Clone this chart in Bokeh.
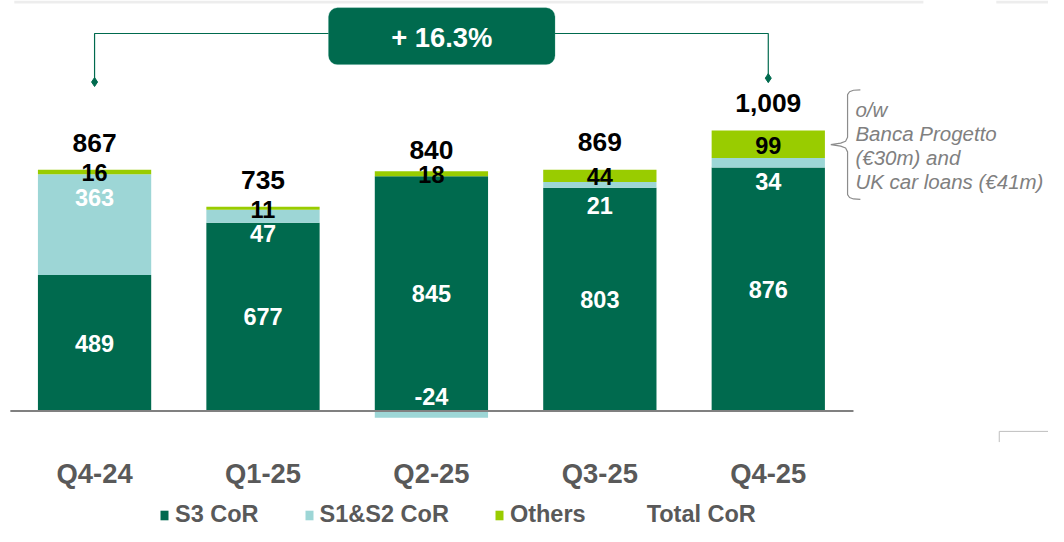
import numpy as np
from bokeh.plotting import figure
from bokeh.models import Range1d, BoxAnnotation, Legend, LegendItem, ColumnDataSource
from bokeh.core.properties import value
from bokeh.embed import file_html
from bokeh.resources import INLINE

# ---------------- data ----------------
categories = ["Q4-24", "Q1-25", "Q2-25", "Q3-25", "Q4-25"]
s3_cor = [489, 677, 845, 803, 876]
s12_cor = [363, 47, -24, 21, 34]
others = [16, 11, 18, 44, 99]
total_cor = [867, 735, 840, 869, 1009]
total_labels = ["867", "735", "840", "869", "1,009"]
growth_label = "+ 16.3%"
note_lines = ["o/w", "Banca Progetto", "(€30m) and", "UK car loans (€41m)"]
legend_labels = ["S3 CoR", "S1&S2 CoR", "Others", "Total CoR"]

# ---------------- style ----------------
C3 = "#006A4E"
C12 = "#9DD6D6"
COTH = "#99CC00"
GREY_TXT = "#595959"
FONT = "Liberation Sans"

W, H = 1048, 526
REF_W, REF_H = 1064.0, 542.0
SX, SY = W / REF_W, H / REF_H
S = (SX + SY) / 2

X0_PX, DX_PX = 95.5, 171.0   # first category centre / pitch (design px)
Y0_PX, KY = 423.0, 0.2864    # zero line (design px), design px per unit


def xd(px):
    return (np.asarray(px, dtype=float) - X0_PX) / DX_PX


def yd(py):
    return (Y0_PX - np.asarray(py, dtype=float)) / KY


def fs(v):
    return f"{v * S:.1f}px"


p = figure(width=W, height=H,
           x_range=Range1d(float(xd(0)), float(xd(REF_W))),
           y_range=Range1d(float(yd(REF_H)), float(yd(0))),
           output_backend="svg", toolbar_location=None, min_border=0,
           x_axis_type=None, y_axis_type=None)
p.outline_line_color = None
p.background_fill_color = "white"
p.border_fill_color = "white"

# faint slide bands at the top
p.quad(left=xd([14, 1011]), right=xd([937, 1064]), top=yd([0, 0]), bottom=yd([3, 3]),
       fill_color="#EDEDED", line_color=None)

x = np.arange(len(categories))
s3 = np.array(s3_cor, dtype=float)
s12 = np.array(s12_cor, dtype=float)
oth = np.array(others, dtype=float)
tot = np.array(total_cor, dtype=float)

s12_bot = np.where(s12 >= 0, s3, 0)
s12_top = np.where(s12 >= 0, s3 + s12, s12)
oth_bot = s3 + np.maximum(s12, 0)
oth_top = oth_bot + oth

bw = 115.0 / DX_PX
r3 = p.vbar(x=x, bottom=0, top=s3, width=bw, fill_color=C3, line_color=None)
r12 = p.vbar(x=x, bottom=s12_bot, top=s12_top, width=bw, fill_color=C12, line_color=None)
ro = p.vbar(x=x, bottom=oth_bot, top=oth_top, width=bw, fill_color=COTH, line_color=None)

# zero line
p.segment(x0=[float(xd(10))], x1=[float(xd(866))], y0=[0], y1=[0], line_color="#808080", line_width=2)

common = dict(text_align="center", text_baseline="middle", text_font=value(FONT), text_font_style="bold")

# S3 labels
p.text(x=x, y=s3 / 2, text=[str(v) for v in s3_cor], text_font_size=fs(24), text_color="white", **common)
# S1&S2 labels
p.text(source=ColumnDataSource(dict(x=x, y=np.where(s12 >= 0, s3 + s12, 0),
                                    yo=np.where(s12 >= 0, 24 * SY, -15 * SY),
                                    t=[str(v) for v in s12_cor])),
       x="x", y="y", y_offset="yo", text="t", text_font_size=fs(24), text_color="white", **common)
# Others labels
p.text(x=x, y=oth_bot + oth / 2, y_offset=1, text=[str(v) for v in others],
       text_font_size=fs(24), text_color="black", **common)
# Totals
p.text(x=x, y=tot, y_offset=-28 * SY, text=total_labels, text_font_size=fs(27), text_color="black", **common)
# Category labels
p.text(x=x, y=[float(yd(487))] * len(x), text=categories, text_font_size=fs(28), text_color=GREY_TXT, **common)

# growth bracket
ybr = float(yd(34))
p.line(x=[0, 0, float(xd(333))], y=[float(yd(84)), ybr, ybr], line_color=C3, line_width=1.2)
p.line(x=[float(xd(563)), 4, 4], y=[ybr, ybr, float(yd(80))], line_color=C3, line_width=1.2)
p.scatter(x=[0, 4], y=[float(yd(84)), float(yd(80))], marker="diamond", size=9, color=C3)
box = BoxAnnotation(left=float(xd(333)), right=float(xd(563)), top=float(yd(7.5)), bottom=float(yd(66)),
                    fill_color=C3, fill_alpha=1, line_color="#3C9A86", line_width=1,
                    border_radius=9, level="underlay")
p.add_layout(box)
p.text(x=[float(xd(448))], y=[float(yd(38))], text=[growth_label], text_font_size=fs(28),
       text_color="white", **common)

# brace + note
bx = [873, 866, 862, 860, 860, 858, 853, 843, 853, 858, 860, 860, 862, 866, 873]
by = [92, 92.5, 94, 97, 141, 145, 147, 148.5, 150, 152, 156, 200, 203, 204.5, 205]
p.line(x=xd(bx), y=yd(by), line_color="#8C8C8C", line_width=1.2)
p.text(x=[float(xd(868))] * 4, y=yd([112, 137, 162, 187]), text=note_lines,
       text_align="left", text_baseline="middle", text_font=value(FONT), text_font_style="italic",
       text_font_size=fs(21), text_color="#808080")

# small corner fragment at right
p.line(x=xd([1064, 1014, 1014]), y=yd([444, 444, 455]), line_color="#BFBFBF", line_width=1)

# legend
dummy = p.scatter(x=[], y=[], fill_alpha=0, line_alpha=0)
legend = Legend(items=[LegendItem(label=legend_labels[0], renderers=[r3]),
                       LegendItem(label=legend_labels[1], renderers=[r12]),
                       LegendItem(label=legend_labels[2], renderers=[ro]),
                       LegendItem(label=legend_labels[3], renderers=[dummy])],
                orientation="horizontal", location=(159, -2),
                glyph_width=10, glyph_height=12, label_standoff=6, spacing=45,
                padding=0, margin=0, border_line_alpha=0, background_fill_alpha=0,
                label_text_font=FONT, label_text_font_style="bold", label_text_font_size=fs(24),
                label_text_color=GREY_TXT, label_height=12)
p.add_layout(legend)

open("out.html", "w").write(file_html(p, INLINE))
